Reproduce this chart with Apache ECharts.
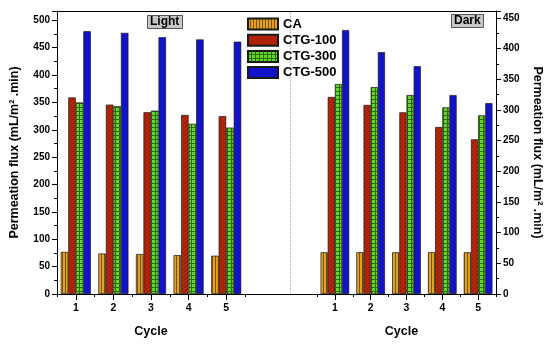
<!DOCTYPE html>
<html>
<head>
<meta charset="utf-8">
<script src="https://cdn.jsdelivr.net/npm/echarts@6/dist/echarts.min.js"></script>
<style>html,body{margin:0;padding:0;background:#fff}#c{width:550px;height:347px}</style>
</head>
<body>
<div id="c"></div>
<script>
// ---- data ----
const cycles = ['1', '2', '3', '4', '5'];
const seriesNames = ['CA', 'CTG-100', 'CTG-300', 'CTG-500'];
const lightCA  = [77, 74, 73, 71, 70];
const light100 = [359, 346, 332, 327, 325];
const light300 = [350, 343, 335, 311, 304];
const light500 = [480, 477, 469, 465, 461];
const darkCA   = [68, 68, 68, 68, 68];
const dark100  = [321, 308, 296, 272, 252];
const dark300  = [342, 337, 324, 304, 291];
const dark500  = [430, 394, 371, 324, 311];

// ---- patterns ----
function pat(w, h, bg, draw) {
  const c = document.createElement('canvas');
  c.width = w; c.height = h;
  const g = c.getContext('2d');
  g.fillStyle = bg; g.fillRect(0, 0, w, h);
  draw(g);
  return { image: c, repeat: 'repeat' };
}
const fills = [
  pat(3, 3, '#E6A21E', g => { g.fillStyle = '#7A5210'; g.fillRect(2, 0, 1, 3); }),
  pat(4, 4, '#C42008', g => { g.fillStyle = '#6E2A0A'; for (let i = 0; i < 4; i++) g.fillRect(i, 3 - i, 1, 1); }),
  pat(4, 4, '#62D826', g => { g.fillStyle = '#2F6A0A'; g.fillRect(0, 3, 4, 1); g.fillRect(3, 0, 1, 4); }),
  '#1212C8'
];

const FONT = 'Arial, "Liberation Sans", sans-serif';
const lightData = [lightCA, light100, light300, light500];
const darkData = [darkCA, dark100, dark300, dark500];

const series = [];
[lightData, darkData].forEach((set, gi) => {
  set.forEach((vals, i) => {
    series.push({
      name: seriesNames[i], type: 'bar', xAxisIndex: gi, yAxisIndex: gi,
      data: vals, barGap: '0%', barCategoryGap: '20%',
      itemStyle: { color: fills[i], borderColor: '#1a1a1a', borderWidth: 0.7 },
      emphasis: { disabled: true }
    });
  });
});

const axisLineStyle = { color: '#000', width: 1 };
function catAxis(gi, namePad) {
  return {
    type: 'category', gridIndex: gi, data: cycles, position: 'bottom',
    axisLine: { lineStyle: axisLineStyle },
    axisTick: { show: true, length: 3, lineStyle: axisLineStyle },
    axisLabel: { color: '#000', fontWeight: 'bold', fontSize: 10.5, fontFamily: FONT, margin: 9 },
    name: 'Cycle', nameLocation: 'middle', nameGap: 31,
    nameTextStyle: { color: '#000', fontWeight: 'bold', fontSize: 12.5, fontFamily: FONT, padding: namePad }
  };
}
function centerTickAxis(gi) {
  return {
    type: 'category', gridIndex: gi, data: cycles, position: 'bottom',
    axisLine: { show: false },
    axisTick: { show: true, alignWithLabel: true, length: 6, lineStyle: axisLineStyle },
    axisLabel: { show: false }
  };
}
function valAxis(gi, max, pos, nameGap, rot) {
  return {
    type: 'value', gridIndex: gi, position: pos, min: 0, max: max, interval: 50,
    axisLine: { show: true, lineStyle: axisLineStyle },
    axisTick: { show: true, length: 5, lineStyle: axisLineStyle },
    minorTick: { show: true, splitNumber: 2, length: 3, lineStyle: axisLineStyle },
    splitLine: { show: false },
    axisLabel: { color: '#000', fontWeight: 'bold', fontSize: 10, fontFamily: FONT, margin: 7, showMaxLabel: false },
    name: 'Permeation flux (mL/m² .min)', nameLocation: 'middle', nameGap: nameGap, nameRotate: rot,
    nameTextStyle: { color: '#000', fontWeight: 'bold', fontSize: 12.5, fontFamily: FONT }
  };
}

const option = {
  animation: false,
  backgroundColor: '#fff',
  title: [
    { text: 'Light', left: 147, top: 15, padding: [1, 3, 1, 3], backgroundColor: '#C8C8C8', borderColor: '#555', borderWidth: 1,
      textStyle: { fontSize: 12, fontWeight: 'bold', color: '#000', fontFamily: FONT } },
    { text: 'Dark', left: 451, top: 14, padding: [1, 3, 1, 3], backgroundColor: '#C8C8C8', borderColor: '#555', borderWidth: 1,
      textStyle: { fontSize: 12, fontWeight: 'bold', color: '#000', fontFamily: FONT } }
  ],
  legend: {
    data: seriesNames, orient: 'vertical', left: 247, top: 17.5, padding: 0,
    itemWidth: 30, itemHeight: 11, itemGap: 3.2, icon: 'rect',
    textStyle: { fontSize: 13, fontWeight: 'bold', color: '#000', fontFamily: FONT },
    selectedMode: false
  },
  grid: [
    { left: 57, top: 11, width: 188, height: 283, containLabel: false },
    { left: 317, top: 11, width: 179, height: 283, containLabel: false },
    { left: 57, top: 11, width: 439, height: 283, containLabel: false },
    { left: 290.5, top: 11, width: 205.5, height: 283, containLabel: false }
  ],
  xAxis: [
    catAxis(0, [0, 0, 0, 0]),
    catAxis(1, [0, 10, 0, 0]),
    centerTickAxis(0),
    centerTickAxis(1),
    { type: 'value', gridIndex: 2, min: 0, max: 1, position: 'bottom', axisLine: { show: true, lineStyle: axisLineStyle }, axisTick: { show: false }, axisLabel: { show: false }, splitLine: { show: false } },
    { type: 'value', gridIndex: 2, min: 0, max: 1, position: 'top', axisLine: { show: true, lineStyle: axisLineStyle }, axisTick: { show: false }, axisLabel: { show: false }, splitLine: { show: false } },
    { type: 'value', gridIndex: 3, min: 0, max: 1, show: false }
  ],
  yAxis: [
    valAxis(0, 517, 'left', 36, 90),
    valAxis(1, 461, 'right', 35, -90),
    { type: 'value', gridIndex: 2, min: 0, max: 1, show: false },
    { type: 'value', gridIndex: 3, min: 0, max: 1, position: 'left',
      axisLine: { show: true, lineStyle: { color: '#c4c4c4', width: 1, type: [2, 2] } },
      axisTick: { show: false }, axisLabel: { show: false }, splitLine: { show: false } }
  ],
  series: series
};
const chart = echarts.init(document.getElementById('c'), null, { renderer: 'canvas' });
chart.setOption(option);
</script>
</body>
</html>
